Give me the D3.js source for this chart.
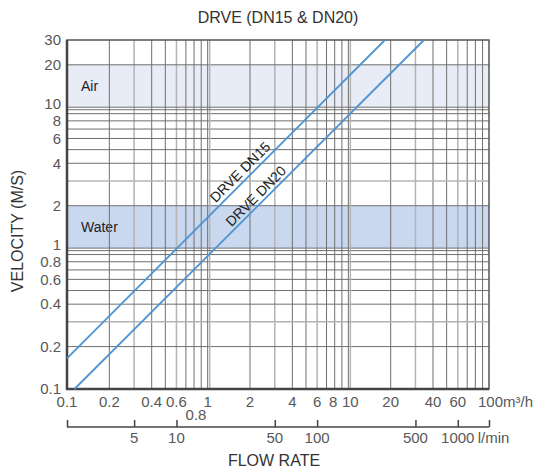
<!DOCTYPE html>
<html lang="en">
<head>
<meta charset="UTF-8">
<title>DRVE velocity chart</title>
<script src="https://d3js.org/d3.v7.min.js"></script>
<style>
  body { margin: 0; background: #fff; }
  text { font-family: "Liberation Sans", Arial, sans-serif; }
  .tick-label { fill: #585858; font-size: 15px; }
  .axis-title { fill: #333; font-size: 16px; }
  .grid { stroke: #6f6f6f; stroke-width: 1; }
  .grid.light { stroke: #b4b4b4; stroke-width: 1.5; }
</style>
</head>
<body>
<svg id="chart" width="535" height="470"></svg>
<script>
  // flow in m3/h, velocity in m/s
  const xTicks = [0.1, 0.2, 0.4, 0.6, 1, 2, 4, 6, 8, 10, 20, 40, 60];
  const xTickLow = [0.8];
  const xGrid = [0.2, 0.3, 0.4, 0.5, 0.6, 0.7, 0.8, 0.9, 2, 3, 4, 5, 6, 7, 8, 9, 20, 30, 40, 50, 60, 70, 80, 90];
  const xLightGrid = [0.3, 0.6, 3, 6, 30, 60];
  const yTicks = [0.1, 0.2, 0.4, 0.6, 0.8, 1, 2, 4, 6, 8, 10, 20, 30];
  const yGrid = [0.2, 0.3, 0.4, 0.5, 0.6, 0.7, 0.8, 0.9, 2, 3, 4, 5, 6, 7, 8, 9, 20];
  const yLightGrid = [0.3, 3];
  const decades = [1, 10];
  const lpmTicks = [5, 10, 50, 100, 500, 1000];

  const bands = [
    { name: "Air", from: 10, to: 20, color: "#e8ecf6" },
    { name: "Water", from: 1, to: 2, color: "#c9d8ef" }
  ];

  const dn15 = [[0.1, 0.165], [18.2, 30]];
  const dn20 = [[0.113, 0.1], [34.5, 30]];
  const lineLabels = [
    { text: "DRVE DN15", q: 1.70, v: 3.47 },
    { text: "DRVE DN20", q: 2.20, v: 2.34 }
  ];

  const plotL = 67, plotR = 489, plotT = 40, plotB = 389;
  const svg = d3.select("#chart");

  const x = d3.scaleLog().domain([0.1, 100]).range([plotL, plotR]);
  const y = d3.scaleLog().domain([0.1, 30]).range([plotB, plotT]);
  // l/min scale shares the same extent (1 m3/h = 1000/60 l/min)
  const xl = d3.scaleLog().domain([0.1 * 1000 / 60, 100 * 1000 / 60]).range([plotL, plotR]);

  // bands
  bands.forEach(b => {
    svg.append("rect")
      .attr("x", plotL).attr("width", plotR - plotL)
      .attr("y", y(b.to)).attr("height", y(b.from) - y(b.to))
      .attr("fill", b.color);
    svg.append("text")
      .attr("x", plotL + 14)
      .attr("y", (y(b.to) + y(b.from)) / 2)
      .attr("dy", "0.35em")
      .attr("font-size", 14)
      .attr("fill", "#222")
      .text(b.name);
  });

  // grid
  const g = svg.append("g");
  xGrid.forEach(v => {
    g.append("line")
      .attr("class", xLightGrid.includes(v) ? "grid light" : "grid")
      .attr("x1", x(v)).attr("x2", x(v)).attr("y1", plotT).attr("y2", plotB);
  });
  yGrid.forEach(v => {
    g.append("line")
      .attr("class", yLightGrid.includes(v) ? "grid light" : "grid")
      .attr("y1", y(v)).attr("y2", y(v)).attr("x1", plotL).attr("x2", plotR);
  });
  // decade lines are doubled
  decades.forEach(v => {
    g.append("line").attr("class", "grid")
      .attr("x1", x(v)).attr("x2", x(v)).attr("y1", plotT).attr("y2", plotB);
    g.append("line").attr("class", "grid light")
      .attr("x1", x(v) + 2).attr("x2", x(v) + 2).attr("y1", plotT).attr("y2", plotB);
    g.append("line").attr("class", "grid")
      .attr("y1", y(v)).attr("y2", y(v)).attr("x1", plotL).attr("x2", plotR);
    g.append("line").attr("class", "grid")
      .attr("y1", y(v) + 2.5).attr("y2", y(v) + 2.5).attr("x1", plotL).attr("x2", plotR);
  });

  // frame
  svg.append("rect")
    .attr("x", plotL).attr("y", plotT)
    .attr("width", plotR - plotL).attr("height", plotB - plotT)
    .attr("fill", "none").attr("stroke", "#555").attr("stroke-width", 1.5);
  svg.append("path")
    .attr("d", `M${plotL},${plotT}V${plotB}H${plotR}`)
    .attr("fill", "none").attr("stroke", "#444").attr("stroke-width", 2.5);

  // lines
  const line = d3.line().x(d => x(d[0])).y(d => y(d[1]));
  [dn15, dn20].forEach(d => {
    svg.append("path")
      .attr("d", line(d))
      .attr("fill", "none")
      .attr("stroke", "#4f93d0")
      .attr("stroke-width", 1.8);
  });
  lineLabels.forEach(l => {
    svg.append("text")
      .attr("transform", `translate(${x(l.q)},${y(l.v)}) rotate(-45)`)
      .attr("text-anchor", "middle")
      .attr("dy", "0.35em")
      .attr("font-size", 14)
      .attr("fill", "#222")
      .text(l.text);
  });

  // y tick labels ("1" and "10" sit a little higher, clear of 0.8 / 8)
  svg.append("g").selectAll("text").data(yTicks).join("text")
    .attr("class", "tick-label")
    .attr("x", plotL - 6)
    .attr("y", d => y(d) - (decades.includes(d) ? 3 : 0))
    .attr("dy", "0.35em")
    .attr("text-anchor", "end")
    .text(d => d);

  // x tick labels (m3/h); 8 and 10 are nudged apart
  const nudge = { 8: -1.5, 10: 2 };
  svg.append("g").selectAll("text").data(xTicks).join("text")
    .attr("class", "tick-label")
    .attr("x", d => x(d) + (nudge[d] || 0))
    .attr("y", plotB + 18)
    .attr("text-anchor", "middle")
    .text(d => d);
  svg.append("g").selectAll("text").data(xTickLow).join("text")
    .attr("class", "tick-label")
    .attr("x", d => x(d) + 2)
    .attr("y", plotB + 31)
    .attr("text-anchor", "middle")
    .text(d => d);
  svg.append("text")
    .attr("class", "tick-label")
    .attr("x", x(100) - 11)
    .attr("y", plotB + 18)
    .text("100m³/h");

  // l/min axis
  const axisY = 427;
  const lpm = svg.append("g").attr("transform", `translate(0,${axisY})`);
  lpm.call(d3.axisTop(xl)
      .tickValues(lpmTicks.concat(xl.domain()))
      .tickSize(7)
      .tickFormat(""))
    .call(a => a.select(".domain").remove());
  lpm.selectAll(".tick line").attr("stroke", "#444").attr("stroke-width", 1.5);
  lpm.append("line")
    .attr("x1", plotL).attr("x2", plotR)
    .attr("stroke", "#444").attr("stroke-width", 1.5);
  svg.append("g").selectAll("text").data(lpmTicks).join("text")
    .attr("class", "tick-label")
    .attr("x", d => xl(d))
    .attr("y", axisY + 16)
    .attr("text-anchor", "middle")
    .text(d => d);
  svg.append("text")
    .attr("class", "tick-label")
    .attr("x", xl(1000) + 20)
    .attr("y", axisY + 16)
    .text("l/min");

  // titles
  svg.append("text")
    .attr("class", "axis-title")
    .attr("x", 278).attr("y", 23)
    .attr("text-anchor", "middle")
    .text("DRVE (DN15 & DN20)");
  svg.append("text")
    .attr("class", "axis-title")
    .attr("font-size", 15)
    .attr("transform", "translate(23,231) rotate(-90)")
    .attr("text-anchor", "middle")
    .text("VELOCITY (M/S)");
  svg.append("text")
    .attr("class", "axis-title")
    .attr("x", 274).attr("y", 466)
    .attr("text-anchor", "middle")
    .text("FLOW RATE");
</script>
</body>
</html>
